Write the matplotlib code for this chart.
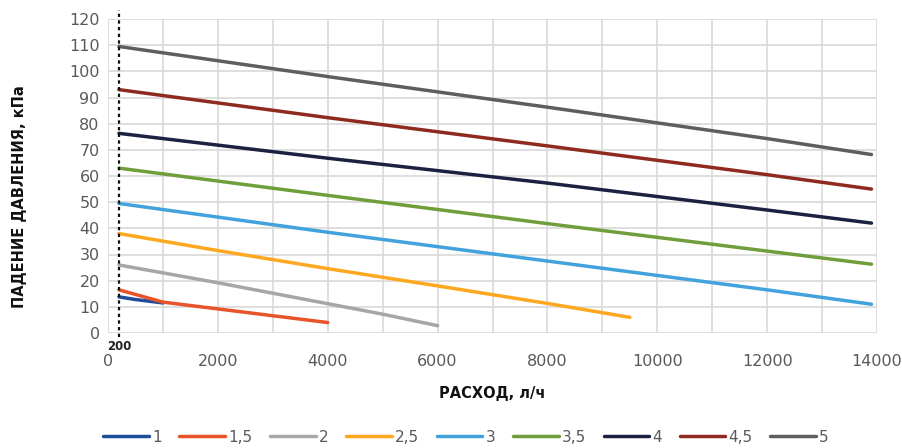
import matplotlib.pyplot as plt
from matplotlib.ticker import MultipleLocator

# series: diameter label -> (flow l/h, pressure drop kPa)
labels = ['1', '1,5', '2', '2,5', '3', '3,5', '4', '4,5', '5']
colors = ['#1f4e9a', '#e8542a', '#a6a6a6', '#fda81f', '#41a2dc',
          '#6f9e3a', '#1b2140', '#8e2a1e', '#5e5e5e']

x_1 = [200, 500, 1000]
y_1 = [13.8, 12.8, 11.5]
x_15 = [200, 1000, 2000, 3000, 4000]
y_15 = [16.5, 11.8, 9.2, 6.6, 4.0]
x_2 = [200, 2000, 3000, 4000, 5000, 6000]
y_2 = [26.0, 19.2, 15.2, 11.2, 7.2, 2.8]
x_25 = [200, 2000, 4000, 6000, 8000, 9500]
y_25 = [38.0, 31.5, 24.6, 18.0, 11.3, 6.0]
x_3 = [200, 4000, 8000, 12000, 13900]
y_3 = [49.5, 38.5, 27.5, 16.5, 11.0]
x_35 = [200, 4000, 8000, 12000, 13900]
y_35 = [63.0, 52.6, 41.8, 31.3, 26.3]
x_4 = [200, 4000, 8000, 12000, 13900]
y_4 = [76.3, 66.8, 57.3, 47.0, 42.0]
x_45 = [200, 4000, 8000, 12000, 13900]
y_45 = [93.0, 82.3, 71.5, 60.5, 55.0]
x_5 = [200, 4000, 8000, 12000, 13900]
y_5 = [109.5, 98.0, 86.3, 74.3, 68.2]

xs = [x_1, x_15, x_2, x_25, x_3, x_35, x_4, x_45, x_5]
ys = [y_1, y_15, y_2, y_25, y_3, y_35, y_4, y_45, y_5]

x_mark = 200

fig = plt.figure(figsize=(9.02, 4.48), dpi=100)
ax = fig.add_axes([108 / 902, 1 - 333 / 448, (877 - 108) / 902, (333 - 19) / 448])

for xv, yv, c, lab in zip(xs, ys, colors, labels):
    ax.plot(xv, yv, color=c, lw=2.5, label=lab, solid_capstyle='round')

ax.plot([x_mark, x_mark], [-1.5, 123.5], color='#111111', lw=1.6, ls=(0, (1.5, 1.5)), clip_on=False)

ax.set_xlim(0, 14000)
ax.set_ylim(0, 120)
ax.xaxis.set_major_locator(MultipleLocator(2000))
ax.xaxis.set_minor_locator(MultipleLocator(1000))
ax.yaxis.set_major_locator(MultipleLocator(10))
ax.grid(True, which='both', color='#d9d9d9', lw=1.2)
ax.set_axisbelow(True)
for s in ax.spines.values():
    s.set_visible(False)
ax.tick_params(which='both', length=0, colors='#595959', labelsize=11.5)
ax.tick_params(axis='x', pad=15)
ax.tick_params(axis='y', pad=6)

ax.text(x_mark, -2.5, '200', ha='center', va='top', fontsize=8.5,
        fontweight='bold', color='#222222')

ax.set_xlabel('РАСХОД, л/ч', fontsize=10.5, fontweight='bold', color='#111111', labelpad=12)
fig.text(20 / 902, 1 - 197 / 448, 'ПАДЕНИЕ ДАВЛЕНИЯ, кПа', rotation=90, ha='center', va='center',
         fontsize=10.5, fontweight='bold', color='#111111')

leg = fig.legend(loc='center', bbox_to_anchor=(466 / 902, 1 - 437 / 448), ncol=9, frameon=False,
                 fontsize=11, handlelength=3.0, columnspacing=1.15, handletextpad=0.2)
for t in leg.get_texts():
    t.set_color('#595959')

fig.savefig('out.png', dpi=100)
